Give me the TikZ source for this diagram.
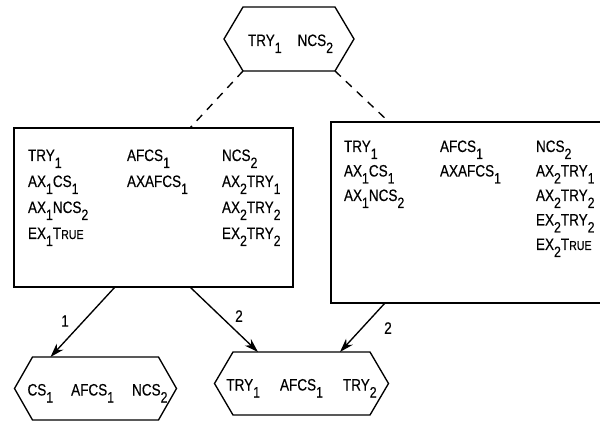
\documentclass[tikz,border=0pt]{standalone}
\usepackage{fontspec}
\setmainfont{Liberation Sans}[FakeStretch=0.82, FakeBold=0.3]
\usetikzlibrary{arrows.meta}

% lowered index digit, nearly full size as on a typewriter
\newcommand\lo[1]{\raisebox{-7pt}{\fontsize{15}{15}\selectfont #1}}
% small-caps style TRUE
\newcommand\tru{T{\fontsize{13}{13}\selectfont RUE}}
% text of a hexagon, allowed to run into the pointed ends
\newcommand\hextext[1]{\makebox[0pt]{#1}}
% hexagonal outline around a text node; #2 is the length of the side points
\newcommand\hexframe[2]{%
  \draw[line width=1.35pt, line join=miter]
    (#1.north west) -- (#1.north east) -- ([xshift=#2]#1.east)
    -- (#1.south east) -- (#1.south west) -- ([xshift=-#2]#1.west) -- cycle;}

\begin{document}
\begin{tikzpicture}[x=1pt, y=-1pt,
  every node/.style={inner sep=0pt, outer sep=0pt},
  txt/.style={font=\fontsize{16.5}{18}\selectfont, anchor=base west},
  hexcore/.style={font=\fontsize{16.5}{18}\selectfont, text height=14pt, text depth=0pt},
  frame/.style={draw, line width=1.35pt},
  link/.style={line width=1.35pt, -{Stealth[length=14pt, width=9pt, inset=4.5pt]}},
  dashlink/.style={line width=1.35pt, dash pattern=on 8pt off 7pt},
  num/.style={font=\fontsize{16.5}{18}\selectfont}]

\useasboundingbox (0,0) rectangle (600,422);
\clip (0,0) rectangle (600,422);

% hexagonal states
\node[hexcore, minimum width=92pt, minimum height=64pt] (top) at (289,39)
  {\hextext{\hspace{3pt}TRY\lo{1}\hspace{16pt}NCS\lo{2}}};
\hexframe{top}{19pt}
\node[hexcore, minimum width=126pt, minimum height=63pt] (left) at (95.5,388.5)
  {\hextext{\hspace{4pt}CS\lo{1}\hspace{18pt}AFCS\lo{1}\hspace{18pt}NCS\lo{2}}};
\hexframe{left}{18pt}
\node[hexcore, minimum width=137pt, minimum height=63pt] (right) at (301.5,383.5)
  {\hextext{TRY\lo{1}\hspace{20pt}AFCS\lo{1}\hspace{20pt}TRY\lo{2}}};
\hexframe{right}{18.5pt}

% rectangular boxes
\node[frame, minimum width=279pt, minimum height=159pt] (lb) at (153.5,207.5) {};
\node[frame, minimum width=281pt, minimum height=181pt] (rb) at (471.5,212.5) {};

% contents of the left box
\node[txt] (l11) at (28,161) {TRY\lo{1}};
\node[txt] (l12) at (28,187) {AX\lo{1}CS\lo{1}};
\node[txt] (l13) at (28,213) {AX\lo{1}NCS\lo{2}};
\node[txt] (l14) at (28,239) {EX\lo{1}\tru};
\node[txt] (l21) at (127,161) {AFCS\lo{1}};
\node[txt] (l22) at (127,187) {AXAFCS\lo{1}};
\node[txt] (l31) at (222,161) {NCS\lo{2}};
\node[txt] (l32) at (222,187) {AX\lo{2}TRY\lo{1}};
\node[txt] (l33) at (222,213) {AX\lo{2}TRY\lo{2}};
\node[txt] (l34) at (222,239) {EX\lo{2}TRY\lo{2}};

% contents of the right box
\node[txt] (r11) at (344,152) {TRY\lo{1}};
\node[txt] (r12) at (344,176.5) {AX\lo{1}CS\lo{1}};
\node[txt] (r13) at (344,201) {AX\lo{1}NCS\lo{2}};
\node[txt] (r21) at (440,152) {AFCS\lo{1}};
\node[txt] (r22) at (440,176.5) {AXAFCS\lo{1}};
\node[txt] (r31) at (536,152) {NCS\lo{2}};
\node[txt] (r32) at (536,176.5) {AX\lo{2}TRY\lo{1}};
\node[txt] (r33) at (536,201) {AX\lo{2}TRY\lo{2}};
\node[txt] (r34) at (536,225.5) {EX\lo{2}TRY\lo{2}};
\node[txt] (r35) at (536,250) {EX\lo{2}\tru};

% dashed links from the top state
\draw[dashlink] (top.south west) -- ([xshift=176pt]lb.north west);
\draw[dashlink] (top.south east) -- ([xshift=58pt]rb.north west);

% numbered transitions
\draw[link] ([xshift=101pt]lb.south west) -- ([xshift=18pt]left.north west);
\draw[link] ([xshift=176pt]lb.south west) -- ([xshift=25pt]right.north west);
\draw[link] ([xshift=54pt]rb.south west) -- ([xshift=107pt]right.north west);

\node[num] (n1) at (65,321) {1};
\node[num] (n2) at (239,316) {2};
\node[num] (n3) at (388,328) {2};
\end{tikzpicture}
\end{document}
